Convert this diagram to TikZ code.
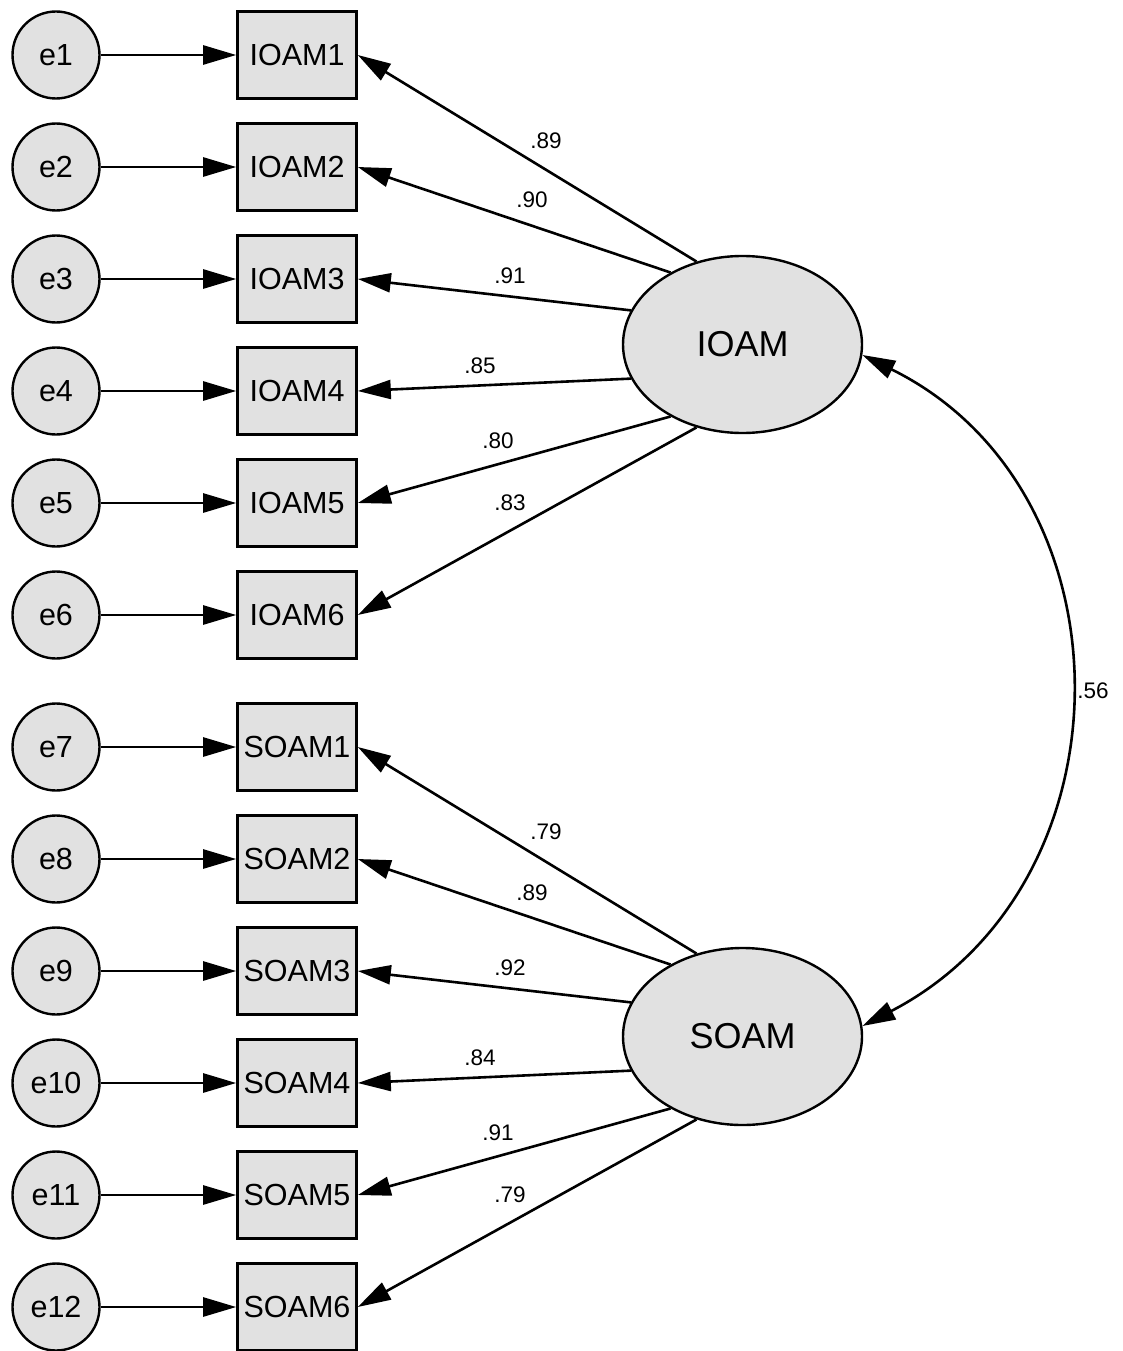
\documentclass[tikz,border=0pt]{standalone}
\usepackage{fontspec}
\setmainfont{Liberation Sans}
\usetikzlibrary{shapes.geometric,arrows.meta}
\definecolor{nodegray}{RGB}{225,225,225}
\tikzset{
  errc/.style={circle,draw=black,line width=2.4pt,fill=nodegray,minimum size=87pt,inner sep=0pt,font=\fontsize{30.5}{32}\selectfont},
  obsbox/.style={rectangle,draw=black,line width=2.6pt,fill=nodegray,minimum width=119pt,minimum height=87pt,inner sep=0pt,font=\fontsize{30.5}{32}\selectfont},
  latent/.style={ellipse,draw=black,line width=2.4pt,fill=nodegray,minimum width=239pt,minimum height=177pt,inner sep=0pt,font=\fontsize{36}{38}\selectfont},
  lbl/.style={inner sep=0pt,font=\fontsize{22.5}{24}\selectfont},
  conn/.style={line width=2.6pt,-{Triangle[length=33pt,width=19pt]}},
  cov/.style={line width=2.6pt,{Triangle[length=33pt,width=19pt]}-{Triangle[length=33pt,width=19pt]}}
}
\begin{document}
\begin{tikzpicture}[x=1pt,y=-1pt]
\useasboundingbox (0,0) rectangle (1122,1351);
% latent variables
\node[latent] (IOAM) at (742.5,344.5) {IOAM};
\node[latent] (SOAM) at (742.5,1036.5) {SOAM};
% IOAM block
\foreach \i/\y in {1/55,2/167,3/279,4/391,5/503,6/615}{
  \node[errc] (e\i) at (56,\y) {e\i};
  \node[obsbox] (IOAM\i) at (297,\y) {IOAM\i};
  \draw[conn] (e\i) -- (IOAM\i);
}
\foreach \i/\j/\y in {7/1/747,8/2/859,9/3/971,10/4/1083,11/5/1195,12/6/1307}{
  \node[errc] (e\i) at (56,\y) {e\i};
  \node[obsbox] (SOAM\j) at (297,\y) {SOAM\j};
  \draw[conn] (e\i) -- (SOAM\j);
}
% loadings
\foreach \j/\a in {1/119,2/135,3/163,4/197,5/225,6/241}{
  \draw[conn] (IOAM.\a) -- (IOAM\j.east);
  \draw[conn] (SOAM.\a) -- (SOAM\j.east);
}
% covariance
\draw[cov] (IOAM.-5) .. controls (1136,490) and (1136,884) .. (SOAM.5);
% labels
\node[lbl] (l1) at (546,141) {.89};
\node[lbl] (l2) at (532,200) {.90};
\node[lbl] (l3) at (510,276) {.91};
\node[lbl] (l4) at (480,366) {.85};
\node[lbl] (l5) at (498,441) {.80};
\node[lbl] (l6) at (510,503) {.83};
\node[lbl] (m1) at (546,832) {.79};
\node[lbl] (m2) at (532,893) {.89};
\node[lbl] (m3) at (510,968) {.92};
\node[lbl] (m4) at (480,1058) {.84};
\node[lbl] (m5) at (498,1133) {.91};
\node[lbl] (m6) at (510,1195) {.79};
\node[lbl] (c1) at (1093,691) {.56};
\end{tikzpicture}
\end{document}
